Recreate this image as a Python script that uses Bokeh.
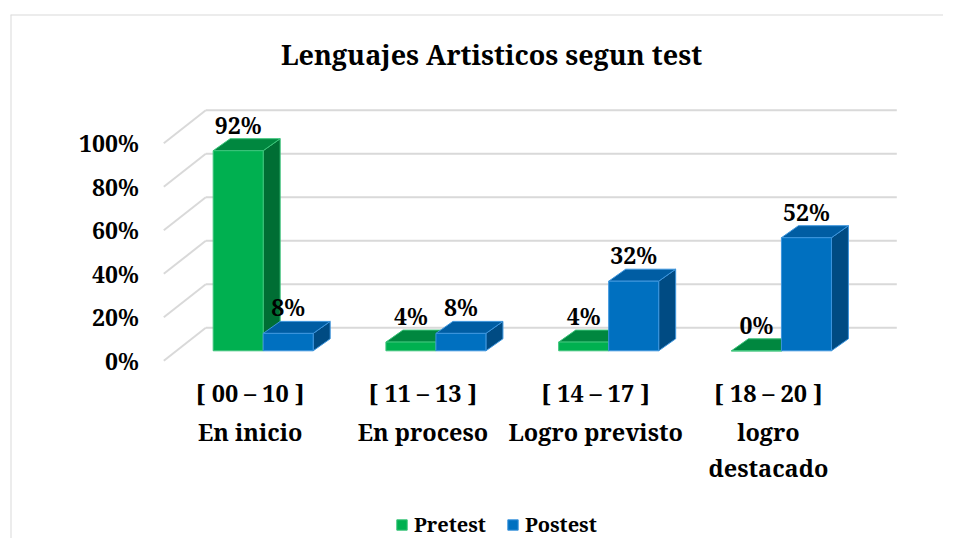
from bokeh.plotting import figure
from bokeh.models import ColumnDataSource, Range1d, Legend, LegendItem, Span
from bokeh.embed import file_html
from bokeh.resources import INLINE
from bokeh.core.properties import value

# ---------------- data ----------------
title_text = "Lenguajes Artisticos segun test"
category_ranges = ["[ 00 – 10 ]", "[ 11 – 13 ]", "[ 14 – 17 ]", "[ 18 – 20 ]"]
category_names = ["En inicio", "En proceso", "Logro previsto", "logro\ndestacado"]
series_names = ["Pretest", "Postest"]
pretest = [92, 4, 4, 0]
postest = [8, 8, 32, 52]
y_ticks = [0, 20, 40, 60, 80, 100]

# ---------------- layout (pixels) ----------------
FIG_W, FIG_H = 943, 538
FRAME_L, FRAME_T = 10, 14
X0, Y0 = 163.3, 360.3      # front-left corner of floor (screen px)
PXC, PXY = 172.75, 2.175   # px per category, px per percent

def to_x(px_x):
    return (px_x - X0) / PXC

def to_y(px_y):
    return (Y0 - px_y) / PXY

def dxu(px):
    return px / PXC

def dyu(px):
    return px / PXY

TXT = "#000000"
FONT = value("Noto Serif")
TSTYLE = dict(text_font=FONT, text_font_style="bold", text_color=TXT)

p = figure(width=FIG_W, height=FIG_H,
           x_range=Range1d(to_x(FRAME_L), to_x(FIG_W)),
           y_range=Range1d(to_y(FIG_H), to_y(FRAME_T)),
           output_backend="svg", toolbar_location=None,
           x_axis_location=None, y_axis_location=None,
           min_border_left=FRAME_L, min_border_top=FRAME_T,
           min_border_right=0, min_border_bottom=0)
p.grid.visible = False
p.outline_line_color = None
p.background_fill_color = "white"
p.border_fill_color = "white"

p.add_layout(Span(location=p.x_range.start, dimension="height", line_color="#d9d9d9", line_width=2))
p.add_layout(Span(location=p.y_range.end, dimension="width", line_color="#d9d9d9", line_width=2))

# ---------------- 3D grid ----------------
n_cat = len(category_ranges)
FDX, FDY = 42, 33
grid_col = "#d9d9d9"
p.segment(x0=[dxu(FDX)] * len(y_ticks), y0=[t + dyu(FDY) for t in y_ticks],
          x1=[n_cat + dxu(FDX)] * len(y_ticks), y1=[t + dyu(FDY) for t in y_ticks],
          line_color=grid_col, line_width=2)
p.segment(x0=[0] * len(y_ticks), y0=y_ticks,
          x1=[dxu(FDX)] * len(y_ticks), y1=[t + dyu(FDY) for t in y_ticks],
          line_color=grid_col, line_width=2)

# ---------------- 3D bars ----------------
BW = 50 / PXC
BASE_DX, BASE_DY = 13, 10
DEP_DX, DEP_DY = 17, 12
colors = {
    "Pretest": dict(front="#00B050", top="#00873F", side="#006E34", edge="#3cc47a"),
    "Postest": dict(front="#0070C0", top="#005DA3", side="#004B83", edge="#3d95dd"),
}

front_renderers = []
lab_x, lab_y, lab_t = [], [], []
for s, (name, vals) in enumerate(zip(series_names, [pretest, postest])):
    fx, fy, tx, ty, sx, sy = [], [], [], [], [], []
    ddx, ddy = dxu(DEP_DX), dyu(DEP_DY)
    for i, v in enumerate(vals):
        gc = i + 0.5 + dxu(BASE_DX)
        l = gc - BW if s == 0 else gc
        r = l + BW
        b = dyu(BASE_DY)
        t = b + v
        fx.append([l, r, r, l]); fy.append([b, b, t, t])
        tx.append([l, r, r + ddx, l + ddx]); ty.append([t, t, t + ddy, t + ddy])
        sx.append([r, r + ddx, r + ddx, r]); sy.append([b, b + ddy, t + ddy, t])
        lab_x.append((l + r) / 2); lab_y.append(t + ddy); lab_t.append(f"{v}%")
    c = colors[name]
    p.patches(sx, sy, fill_color=c["side"], line_color=c["edge"], line_width=1)
    p.patches(tx, ty, fill_color=c["top"], line_color=c["edge"], line_width=1)
    fr = p.patches(fx, fy, fill_color=c["front"], line_color=c["edge"], line_width=1)
    front_renderers.append(fr)

# data labels (centre ~14px above the back edge of the bar top)
p.text(x=lab_x, y=lab_y, text=lab_t, y_offset=-14, text_align="center",
       text_baseline="middle", text_font_size="23px", **TSTYLE)

# y tick labels
p.text(x=[dxu(-25)] * len(y_ticks), y=y_ticks, text=[f"{t}%" for t in y_ticks],
       text_align="right", text_baseline="middle", text_font_size="23px", **TSTYLE)

# category labels (multi-line)
line_offsets = [32, 71, 107]
cx, cy, ct, coff = [], [], [], []
for i, (rng, nm) in enumerate(zip(category_ranges, category_names)):
    lines = [rng] + nm.split("\n")
    for k, ln in enumerate(lines):
        cx.append(i + 0.5); cy.append(0); ct.append(ln); coff.append(line_offsets[k])
csrc = ColumnDataSource(dict(x=cx, y=cy, text=ct, off=coff))
p.text(x="x", y="y", text="text", y_offset="off", source=csrc, text_align="center",
       text_baseline="middle", text_font_size="23.5px", **TSTYLE)

# title
p.text(x=[to_x(491)], y=[to_y(54)], text=[title_text], text_align="center",
       text_baseline="middle", text_font_size="27px", **TSTYLE)

legend = Legend(items=[LegendItem(label=n, renderers=[r]) for n, r in zip(series_names, front_renderers)],
                orientation="horizontal", location=(385, 0),
                glyph_width=13, glyph_height=13, label_standoff=6, spacing=20,
                padding=0, margin=0, border_line_color=None, background_fill_alpha=0,
                label_text_font="Noto Serif", label_text_font_style="bold",
                label_text_font_size="20px", label_text_color=TXT)
p.add_layout(legend)

open("out.html", "w").write(file_html(p, INLINE))
